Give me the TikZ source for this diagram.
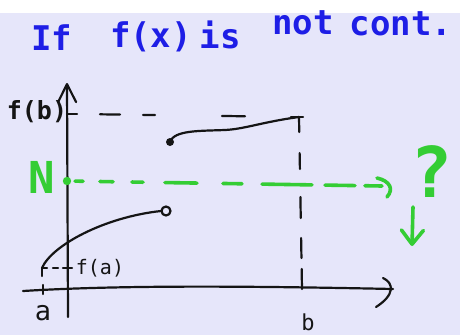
\documentclass[tikz,border=0pt]{standalone}
\usepackage{fontspec}
\setmainfont{DejaVu Sans Mono}
\usetikzlibrary{arrows.meta,calc}
\definecolor{bg}{HTML}{E6E6FA}
\definecolor{pen}{HTML}{151515}
\definecolor{grn}{HTML}{34CD34}
\definecolor{blu}{HTML}{1E1EE6}
\begin{document}
\begin{tikzpicture}[x=1pt,y=-1pt,line cap=round,line join=round,
  ink/.style={draw=pen,line width=2.2pt},
  gink/.style={draw=grn,line width=3.6pt},
  ttl/.style={text=blu,font=\bfseries\fontsize{34}{34}\selectfont,anchor=base,inner sep=0pt},
  lbl/.style={text=pen,inner sep=0pt},
  gtxt/.style={text=grn,inner sep=0pt}]
\fill[white] (0,0) rectangle (460,335);
\fill[bg] (0,13) rectangle (460,335);
\useasboundingbox (0,0) rectangle (460,335);
% title
\node[ttl] (tIf) at (52,50) {If};
\node[ttl] (tfx) at (151,47) {f(x)};
\node[ttl] (tis) at (220,48) {is};
\node[ttl] (tnot) at (303,34) {not};
\node[ttl] (tcont) at (401,35) {cont.};
% axes
\coordinate (ybot) at (68,317);
\coordinate (ytop) at (67,83);
\draw[ink,-{Straight Barb[length=18pt,width=18pt,round]}] (ybot) -- (ytop);
\coordinate (xl) at (23,291);
\coordinate (xr) at (393,289);
\draw[ink] (xl) .. controls (120,285) and (250,286) .. (xr);
\draw[ink] ($(xr)+(-10,-11)$) .. controls ($(xr)+(1,-6)$) and ($(xr)+(2,6)$) .. ($(xr)+(-17,18)$);
\coordinate (ta) at (43,290);
\draw[ink] ($(ta)+(0,-5)$) -- ($(ta)+(0,4)$);
% f(b) level
\coordinate (fbl) at (67,114);
\coordinate (fbt) at (77,114);
\draw[ink] (fbl) -- (fbt);
\coordinate (ctop) at (299,117);
\coordinate (cdot) at (170,142);
\draw[ink,dash pattern=on 20pt off 23pt on 12pt off 67pt on 23pt off 68pt,dash phase=190pt] (fbt) -- (ctop);
\draw[ink] (cdot) .. controls (174,130) and (200,131) .. (225,130) .. controls (245,129) and (262,122) .. (ctop);
\draw[ink] ($(ctop)+(-8,0)$) -- ($(ctop)+(4,0)$);
\fill[pen] (cdot) circle (4);
\coordinate (bt) at (302,289);
\draw[ink,dash pattern=on 15pt off 21pt on 16pt off 28pt on 21pt off 20pt on 20pt off 11pt on 20pt off 40pt] (ctop) -- (bt);
% lower curve
\coordinate (la) at (42,268);
\coordinate (lend) at (161,211);
\coordinate (ocirc) at (166,211);
\coordinate (fat) at (63,268);
\draw[ink] (la) .. controls (52,245) and (105,217) .. (lend);
\draw[ink] (ocirc) circle (4.5);
\draw[ink] (la) -- ($(la)+(0,8)$);
\draw[ink,dash pattern=on 5pt off 6pt] (la) -- (fat);
\draw[ink] (fat) -- ($(fat)+(9,0)$);
% labels
\node[lbl,font=\bfseries\fontsize{25}{25}\selectfont] (lfb) at (37,112) {f(b)};
\node[lbl,font=\fontsize{20}{20}\selectfont] (lfa) at (100,268) {f(a)};
\node[lbl,font=\fontsize{27}{27}\selectfont] (lA) at (43,313) {a};
\node[lbl,font=\fontsize{22}{22}\selectfont] (lB) at (308,322) {b};
% green
\coordinate (gN) at (67,181);
\coordinate (gend) at (382,186);
\coordinate (gtip) at (392,187);
\draw[gink,dash pattern=on 8pt off 17pt on 13pt off 19pt on 11pt off 22pt on 32pt off 26pt on 19pt off 20pt on 50pt off 13pt on 30pt off 10pt on 17pt off 20pt,dash phase=319pt] (gN) -- (gend);
\fill[grn] (gN) circle (4.2);
\draw[gink] ($(gtip)+(-15,-9)$) .. controls ($(gtip)+(-2,-6)$) and ($(gtip)+(2,2)$) .. ($(gtip)+(-5,10)$);
\node[gtxt,font=\bfseries\fontsize{44}{44}\selectfont] (lN) at (42,177) {N};
\node[gtxt,font=\bfseries\fontsize{70}{70}\selectfont] (q) at (432,172) {?};
\coordinate (dtop) at (413,207);
\coordinate (dbot) at (412,246);
\draw[gink,-{Straight Barb[length=14pt,width=22pt,round]}] (dtop) -- (dbot);
\end{tikzpicture}
\end{document}
